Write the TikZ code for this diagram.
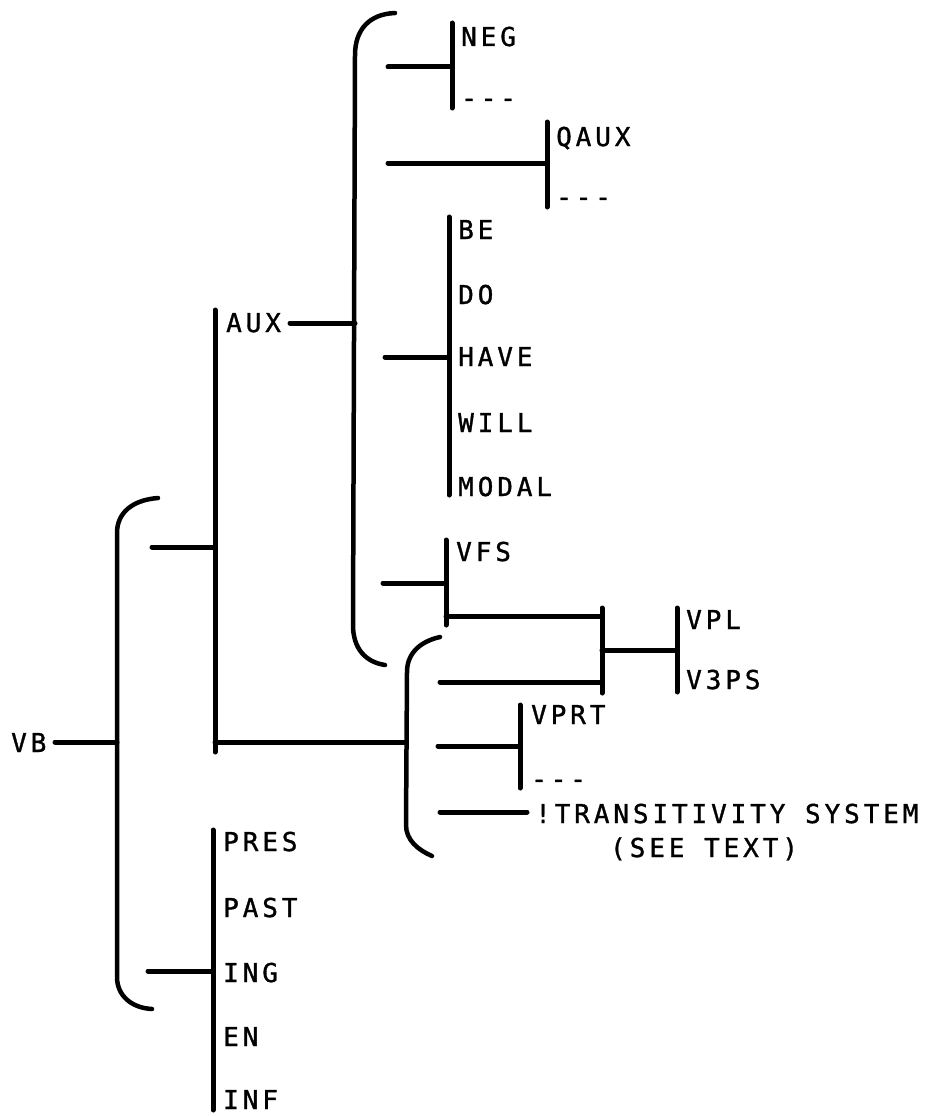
\documentclass[tikz,border=0pt]{standalone}
\usepackage{fontspec}
\usetikzlibrary{positioning}
\newfontfamily\printfont[LetterSpace=15,Ligatures=TeXOff,FakeBold=1.2]{DejaVu Sans Mono}

\begin{document}
\begin{tikzpicture}[
    x=1pt, y=-1pt,
    word/.style={anchor=base west, inner sep=0pt, font=\printfont\fontsize{26}{30}\selectfont},
    bar/.style={line width=5pt, line cap=round},
    brace/.style={line width=4.5pt, line cap=round, line join=round}
]
\useasboundingbox (0,0) rectangle (924,1116);

% Labels
\node[word] (vb) at (11,752) {VB};
\node[word] (aux) at (226,332) {AUX};
\node[word] (neg) at (461,46) {NEG};
\node[word] (neg_none) at (461,107) {---};
\node[word] (qaux) at (556,146) {QAUX};
\node[word] (qaux_none) at (556,206) {---};
\node[word] (be) at (458,239) {BE};
\node[word] (do) at (458,304) {DO};
\node[word] (have) at (458,366) {HAVE};
\node[word] (will) at (458,432) {WILL};
\node[word] (modal) at (458,496) {MODAL};
\node[word] (vfs) at (456,561) {VFS};
\node[word] (vpl) at (686,629) {VPL};
\node[word] (v3ps) at (686,689) {V3PS};
\node[word] (vprt) at (531,724) {VPRT};
\node[word] (vprt_none) at (531,788) {---};
\node[word] (trans) at (535,823) {!TRANSITIVITY SYSTEM};
\node[word] (trans_note) at (610,857) {(SEE TEXT)};
\node[word] (pres) at (223,851) {PRES};
\node[word] (past) at (223,917) {PAST};
\node[word] (ing) at (223,982) {ING};
\node[word] (en) at (223,1046) {EN};
\node[word] (inf) at (223,1109) {INF};

% Bars and stubs
\coordinate (vb_top) at (117,533);
\coordinate (vb_bot) at (117,977);
\coordinate (vb_in) at (55,742);
\coordinate (aux_top) at (215,310);
\coordinate (aux_bot) at (215,752);
\coordinate (aux_in) at (152,547);
\coordinate (aux_out) at (290,323);
\coordinate (aux_br_top) at (355,55);
\coordinate (aux_br_bot) at (353,625);
\coordinate (low_br_top) at (407,672);
\coordinate (low_br_bot) at (406,825);
\coordinate (neg_top) at (452,23);
\coordinate (neg_bot) at (452,108);
\coordinate (neg_in) at (388,67);
\coordinate (qaux_top) at (547,122);
\coordinate (qaux_bot) at (547,207);
\coordinate (qaux_in) at (388,163);
\coordinate (mod_top) at (449,217);
\coordinate (mod_bot) at (449,495);
\coordinate (mod_in) at (385,357);
\coordinate (vfs_top) at (446,540);
\coordinate (vfs_bot) at (446,625);
\coordinate (vfs_in) at (383,583);
\coordinate (vfs_out) at (446,616);
\coordinate (agr_top) at (602,608);
\coordinate (agr_bot) at (602,693);
\coordinate (agr_mid) at (602,650);
\coordinate (fin_in) at (440,682);
\coordinate (vpl_top) at (677,608);
\coordinate (vpl_bot) at (677,692);
\coordinate (vprt_top) at (520,705);
\coordinate (vprt_bot) at (520,788);
\coordinate (prt_in) at (438,746);
\coordinate (tr_in) at (440,812);
\coordinate (tr_out) at (527,812);
\coordinate (tns_top) at (213,830);
\coordinate (tns_bot) at (213,1110);
\coordinate (tns_in) at (148,971);

% Braces
\draw[brace] (158,498) .. controls (132,500) and (117,513) .. (vb_top) -- (vb_bot) .. controls (117,996) and (132,1008) .. (152,1009);
\draw[brace] (395,13) .. controls (369,14) and (355,30) .. (aux_br_top) -- (aux_br_bot) .. controls (353,648) and (365,662) .. (385,665);
\draw[brace] (440,637) .. controls (418,642) and (407,655) .. (low_br_top) -- (low_br_bot) .. controls (406,840) and (418,850) .. (432,856);

\draw[bar] (vb_in) -- (vb_in -| vb_top);
\draw[bar] (aux_top) -- (aux_bot);
\draw[bar] (aux_in) -- (aux_in -| aux_top);
\draw[bar] (aux_bot |- vb_in) -- (vb_in -| low_br_bot);
\draw[bar] (aux_out) -- (aux_out -| aux_br_top);
\draw[bar] (neg_top) -- (neg_bot);
\draw[bar] (neg_in) -- (neg_in -| neg_top);
\draw[bar] (qaux_top) -- (qaux_bot);
\draw[bar] (qaux_in) -- (qaux_in -| qaux_top);
\draw[bar] (mod_top) -- (mod_bot);
\draw[bar] (mod_in) -- (mod_in -| mod_top);
\draw[bar] (vfs_top) -- (vfs_bot);
\draw[bar] (vfs_in) -- (vfs_in -| vfs_top);
\draw[bar] (vfs_out) -- (vfs_out -| agr_top);
\draw[bar] (agr_top) -- (agr_bot);
\draw[bar] (fin_in) -- (fin_in -| agr_top);
\draw[bar] (agr_mid) -- (agr_mid -| vpl_top);
\draw[bar] (vpl_top) -- (vpl_bot);
\draw[bar] (vprt_top) -- (vprt_bot);
\draw[bar] (prt_in) -- (prt_in -| vprt_top);
\draw[bar] (tr_in) -- (tr_out);
\draw[bar] (tns_top) -- (tns_bot);
\draw[bar] (tns_in) -- (tns_in -| tns_top);

\end{tikzpicture}
\end{document}
